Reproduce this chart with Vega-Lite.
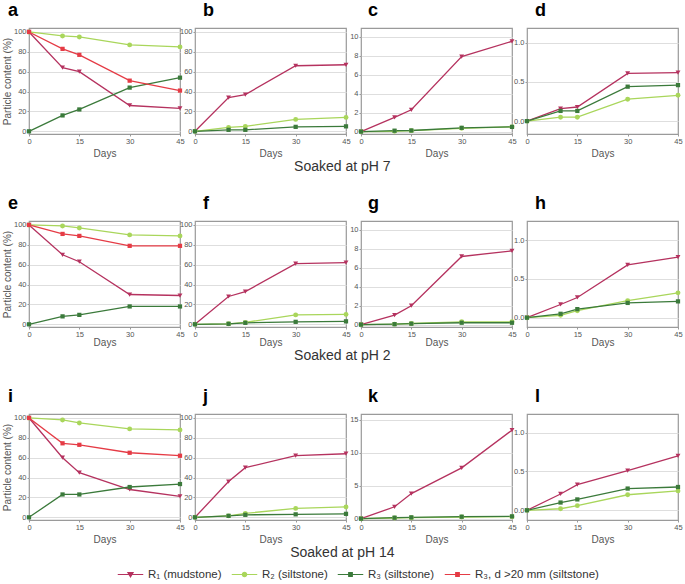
{
"$schema":"https://vega.github.io/schema/vega-lite/v6.json",
"padding":{"left":1,"top":1,"right":2,"bottom":2},
"config":{
 "font":"Liberation Sans",
 "view":{"stroke":"#9a9a9a","strokeWidth":1.2},
 "axis":{"labelFontSize":7.5,"labelColor":"#555","titleFontSize":10,"titleFontWeight":"normal","titleColor":"#555","tickColor":"#999","tickSize":2,"labelPadding":1,"domain":false,"gridColor":"#dedede","labelFlush":false,"labelOverlap":false},
 "axisX":{"grid":false},
 "axisY":{"grid":true,"titlePadding":1},
 "title":{"fontSize":18,"fontWeight":"bold","anchor":"start","frame":"group","baseline":"alphabetic","offset":8,"color":"#000"},
 "point":{"filled":true,"opacity":1,"size":24},
 "line":{"strokeWidth":1.3}
},
"data":{"values":[
{"p":"a","s":"R1","d":0,"v":100},{"p":"a","s":"R1","d":10,"v":64},{"p":"a","s":"R1","d":15,"v":60},{"p":"a","s":"R1","d":30,"v":26},{"p":"a","s":"R1","d":45,"v":23},
{"p":"a","s":"R2","d":0,"v":100},{"p":"a","s":"R2","d":10,"v":96},{"p":"a","s":"R2","d":15,"v":95},{"p":"a","s":"R2","d":30,"v":87},{"p":"a","s":"R2","d":45,"v":85},
{"p":"a","s":"R3","d":0,"v":0},{"p":"a","s":"R3","d":10,"v":16},{"p":"a","s":"R3","d":15,"v":22},{"p":"a","s":"R3","d":30,"v":44},{"p":"a","s":"R3","d":45,"v":54},
{"p":"a","s":"R3d","d":0,"v":100},{"p":"a","s":"R3d","d":10,"v":83},{"p":"a","s":"R3d","d":15,"v":77},{"p":"a","s":"R3d","d":30,"v":51},{"p":"a","s":"R3d","d":45,"v":41},
{"p":"b","s":"R1","d":0,"v":0},{"p":"b","s":"R1","d":10,"v":34},{"p":"b","s":"R1","d":15,"v":37},{"p":"b","s":"R1","d":30,"v":66},{"p":"b","s":"R1","d":45,"v":67},
{"p":"b","s":"R2","d":0,"v":0},{"p":"b","s":"R2","d":10,"v":4},{"p":"b","s":"R2","d":15,"v":5},{"p":"b","s":"R2","d":30,"v":12},{"p":"b","s":"R2","d":45,"v":14},
{"p":"b","s":"R3","d":0,"v":0},{"p":"b","s":"R3","d":10,"v":1.5},{"p":"b","s":"R3","d":15,"v":1.5},{"p":"b","s":"R3","d":30,"v":4.5},{"p":"b","s":"R3","d":45,"v":5},
{"p":"c","s":"R1","d":0,"v":0},{"p":"c","s":"R1","d":10,"v":1.5},{"p":"c","s":"R1","d":15,"v":2.3},{"p":"c","s":"R1","d":30,"v":7.9},{"p":"c","s":"R1","d":45,"v":9.5},
{"p":"c","s":"R2","d":0,"v":0},{"p":"c","s":"R2","d":10,"v":0.03},{"p":"c","s":"R2","d":15,"v":0.1},{"p":"c","s":"R2","d":30,"v":0.35},{"p":"c","s":"R2","d":45,"v":0.5},
{"p":"c","s":"R3","d":0,"v":0},{"p":"c","s":"R3","d":10,"v":0.1},{"p":"c","s":"R3","d":15,"v":0.12},{"p":"c","s":"R3","d":30,"v":0.4},{"p":"c","s":"R3","d":45,"v":0.5},
{"p":"d","s":"R1","d":0,"v":0},{"p":"d","s":"R1","d":10,"v":0.16},{"p":"d","s":"R1","d":15,"v":0.18},{"p":"d","s":"R1","d":30,"v":0.61},{"p":"d","s":"R1","d":45,"v":0.62},
{"p":"d","s":"R2","d":0,"v":0},{"p":"d","s":"R2","d":10,"v":0.05},{"p":"d","s":"R2","d":15,"v":0.05},{"p":"d","s":"R2","d":30,"v":0.28},{"p":"d","s":"R2","d":45,"v":0.33},
{"p":"d","s":"R3","d":0,"v":0},{"p":"d","s":"R3","d":10,"v":0.13},{"p":"d","s":"R3","d":15,"v":0.13},{"p":"d","s":"R3","d":30,"v":0.44},{"p":"d","s":"R3","d":45,"v":0.46},
{"p":"e","s":"R1","d":0,"v":100},{"p":"e","s":"R1","d":10,"v":70},{"p":"e","s":"R1","d":15,"v":63},{"p":"e","s":"R1","d":30,"v":30},{"p":"e","s":"R1","d":45,"v":29},
{"p":"e","s":"R2","d":0,"v":100},{"p":"e","s":"R2","d":10,"v":99},{"p":"e","s":"R2","d":15,"v":97},{"p":"e","s":"R2","d":30,"v":90},{"p":"e","s":"R2","d":45,"v":89},
{"p":"e","s":"R3","d":0,"v":0},{"p":"e","s":"R3","d":10,"v":8},{"p":"e","s":"R3","d":15,"v":9.5},{"p":"e","s":"R3","d":30,"v":18},{"p":"e","s":"R3","d":45,"v":18},
{"p":"e","s":"R3d","d":0,"v":100},{"p":"e","s":"R3d","d":10,"v":91},{"p":"e","s":"R3d","d":15,"v":89},{"p":"e","s":"R3d","d":30,"v":79},{"p":"e","s":"R3d","d":45,"v":79},
{"p":"f","s":"R1","d":0,"v":0},{"p":"f","s":"R1","d":10,"v":28},{"p":"f","s":"R1","d":15,"v":33},{"p":"f","s":"R1","d":30,"v":61},{"p":"f","s":"R1","d":45,"v":62},
{"p":"f","s":"R2","d":0,"v":0},{"p":"f","s":"R2","d":10,"v":0.5},{"p":"f","s":"R2","d":15,"v":2},{"p":"f","s":"R2","d":30,"v":9.5},{"p":"f","s":"R2","d":45,"v":10},
{"p":"f","s":"R3","d":0,"v":0},{"p":"f","s":"R3","d":10,"v":0.5},{"p":"f","s":"R3","d":15,"v":1.5},{"p":"f","s":"R3","d":30,"v":2.5},{"p":"f","s":"R3","d":45,"v":3},
{"p":"g","s":"R1","d":0,"v":0},{"p":"g","s":"R1","d":10,"v":1},{"p":"g","s":"R1","d":15,"v":2},{"p":"g","s":"R1","d":30,"v":7.2},{"p":"g","s":"R1","d":45,"v":7.8},
{"p":"g","s":"R2","d":0,"v":0},{"p":"g","s":"R2","d":10,"v":0.05},{"p":"g","s":"R2","d":15,"v":0.12},{"p":"g","s":"R2","d":30,"v":0.3},{"p":"g","s":"R2","d":45,"v":0.3},
{"p":"g","s":"R3","d":0,"v":0},{"p":"g","s":"R3","d":10,"v":0.05},{"p":"g","s":"R3","d":15,"v":0.1},{"p":"g","s":"R3","d":30,"v":0.2},{"p":"g","s":"R3","d":45,"v":0.2},
{"p":"h","s":"R1","d":0,"v":0},{"p":"h","s":"R1","d":10,"v":0.17},{"p":"h","s":"R1","d":15,"v":0.26},{"p":"h","s":"R1","d":30,"v":0.68},{"p":"h","s":"R1","d":45,"v":0.78},
{"p":"h","s":"R2","d":0,"v":0},{"p":"h","s":"R2","d":10,"v":0.03},{"p":"h","s":"R2","d":15,"v":0.09},{"p":"h","s":"R2","d":30,"v":0.22},{"p":"h","s":"R2","d":45,"v":0.32},
{"p":"h","s":"R3","d":0,"v":0},{"p":"h","s":"R3","d":10,"v":0.05},{"p":"h","s":"R3","d":15,"v":0.11},{"p":"h","s":"R3","d":30,"v":0.19},{"p":"h","s":"R3","d":45,"v":0.21},
{"p":"i","s":"R1","d":0,"v":100},{"p":"i","s":"R1","d":10,"v":60},{"p":"i","s":"R1","d":15,"v":45},{"p":"i","s":"R1","d":30,"v":28},{"p":"i","s":"R1","d":45,"v":21},
{"p":"i","s":"R2","d":0,"v":100},{"p":"i","s":"R2","d":10,"v":98},{"p":"i","s":"R2","d":15,"v":95},{"p":"i","s":"R2","d":30,"v":89},{"p":"i","s":"R2","d":45,"v":88},
{"p":"i","s":"R3","d":0,"v":0},{"p":"i","s":"R3","d":10,"v":23},{"p":"i","s":"R3","d":15,"v":23},{"p":"i","s":"R3","d":30,"v":30.5},{"p":"i","s":"R3","d":45,"v":33.5},
{"p":"i","s":"R3d","d":0,"v":100},{"p":"i","s":"R3d","d":10,"v":74.5},{"p":"i","s":"R3d","d":15,"v":73},{"p":"i","s":"R3d","d":30,"v":65},{"p":"i","s":"R3d","d":45,"v":62},
{"p":"j","s":"R1","d":0,"v":0},{"p":"j","s":"R1","d":10,"v":36},{"p":"j","s":"R1","d":15,"v":50},{"p":"j","s":"R1","d":30,"v":62},{"p":"j","s":"R1","d":45,"v":64},
{"p":"j","s":"R2","d":0,"v":0},{"p":"j","s":"R2","d":10,"v":1.5},{"p":"j","s":"R2","d":15,"v":4},{"p":"j","s":"R2","d":30,"v":9},{"p":"j","s":"R2","d":45,"v":10.5},
{"p":"j","s":"R3","d":0,"v":0},{"p":"j","s":"R3","d":10,"v":1.5},{"p":"j","s":"R3","d":15,"v":2.5},{"p":"j","s":"R3","d":30,"v":3},{"p":"j","s":"R3","d":45,"v":3.5},
{"p":"k","s":"R1","d":0,"v":0},{"p":"k","s":"R1","d":10,"v":1.8},{"p":"k","s":"R1","d":15,"v":3.8},{"p":"k","s":"R1","d":30,"v":7.7},{"p":"k","s":"R1","d":45,"v":13.4},
{"p":"k","s":"R2","d":0,"v":0},{"p":"k","s":"R2","d":10,"v":0.1},{"p":"k","s":"R2","d":15,"v":0.15},{"p":"k","s":"R2","d":30,"v":0.25},{"p":"k","s":"R2","d":45,"v":0.3},
{"p":"k","s":"R3","d":0,"v":0},{"p":"k","s":"R3","d":10,"v":0.15},{"p":"k","s":"R3","d":15,"v":0.2},{"p":"k","s":"R3","d":30,"v":0.3},{"p":"k","s":"R3","d":45,"v":0.35},
{"p":"l","s":"R1","d":0,"v":0},{"p":"l","s":"R1","d":10,"v":0.21},{"p":"l","s":"R1","d":15,"v":0.33},{"p":"l","s":"R1","d":30,"v":0.51},{"p":"l","s":"R1","d":45,"v":0.7},
{"p":"l","s":"R2","d":0,"v":0},{"p":"l","s":"R2","d":10,"v":0.02},{"p":"l","s":"R2","d":15,"v":0.06},{"p":"l","s":"R2","d":30,"v":0.2},{"p":"l","s":"R2","d":45,"v":0.25},
{"p":"l","s":"R3","d":0,"v":0},{"p":"l","s":"R3","d":10,"v":0.1},{"p":"l","s":"R3","d":15,"v":0.14},{"p":"l","s":"R3","d":30,"v":0.28},{"p":"l","s":"R3","d":45,"v":0.3}
]},
"resolve":{"scale":{"color":"shared"}},
"bounds":"flush",
"spacing":193,
"vconcat":[
{"title":{"text":"Soaked at pH 7","orient":"bottom","anchor":"middle","frame":"bounds","fontSize":14,"fontWeight":"normal","color":"#333","offset":1,"baseline":"top"},
 "bounds":"flush","spacing":15,
 "hconcat":[
  {"width":151,"height":106,"title":{"text":"a","dx":-21},"transform":[{"filter":"datum.p==='a'"}],
   "encoding":{"x":{"field":"d","type":"quantitative","scale":{"domain":[0,45],"nice":false},"axis":{"values":[0,15,30,45],"title":"Days","titlePadding":4}},
    "y":{"field":"v","type":"quantitative","scale":{"domain":[-2.7,104],"nice":false,"zero":false},"axis":{"values":[0,20,40,60,80,100],"title":"Particle content (%)"}},
    "color":{"field":"s","type":"nominal","scale":{"domain":["R1","R2","R3","R3d"],"range":["#b5325f","#a9d65b","#3b7a3b","#e53b45"]},
     "legend":{"orient":"none","legendX":88,"legendY":533,"direction":"horizontal","title":null,"padding":0,"symbolSize":650,"labelFontSize":11.5,"labelColor":"#333","columnPadding":7,"labelOffset":4,
      "labelExpr":"datum.value=='R1' ? 'R₁ (mudstone)' : datum.value=='R2' ? 'R₂ (siltstone)' : datum.value=='R3' ? 'R₃ (siltstone)' : 'R₃, d >20 mm (siltstone)'",
      "encode":{"symbols":{"update":{
        "shape":{"signal":"datum.value=='R1' ? 'M-1,0L1,0M-0.2,-0.15L0.2,-0.15L0,0.18Z' : datum.value=='R2' ? 'M-1,0L1,0M-0.17,0A0.17,0.17,0,1,0,0.17,0A0.17,0.17,0,1,0,-0.17,0Z' : 'M-1,0L1,0M-0.14,-0.14L0.14,-0.14L0.14,0.14L-0.14,0.14Z'"},
        "fill":{"signal":"scale('color', datum.value)"},"stroke":{"signal":"scale('color', datum.value)"},"strokeWidth":{"value":1.2},"opacity":{"value":1},"fillOpacity":{"value":1}}}}}}},
   "layer":[{"mark":"line"},
    {"transform":[{"filter":"datum.s==='R1'"}],"mark":{"type":"point","shape":"triangle-down"}},
    {"transform":[{"filter":"datum.s==='R2'"}],"mark":{"type":"point","shape":"circle"}},
    {"transform":[{"filter":"datum.s==='R3' || datum.s==='R3d'"}],"mark":{"type":"point","shape":"square","size":18}}]},
  {"width":151,"height":106,"title":{"text":"b","dx":8},"transform":[{"filter":"datum.p==='b'"}],
   "encoding":{"x":{"field":"d","type":"quantitative","scale":{"domain":[0,45],"nice":false},"axis":{"values":[0,15,30,45],"title":"Days","titlePadding":4}},
    "y":{"field":"v","type":"quantitative","scale":{"domain":[-2.7,104],"nice":false,"zero":false},"axis":{"values":[0,20,40,60,80,100],"title":null}},
    "color":{"field":"s","type":"nominal","scale":{"domain":["R1","R2","R3","R3d"],"range":["#b5325f","#a9d65b","#3b7a3b","#e53b45"]},"legend":null}},
   "layer":[{"mark":"line"},
    {"transform":[{"filter":"datum.s==='R1'"}],"mark":{"type":"point","shape":"triangle-down"}},
    {"transform":[{"filter":"datum.s==='R2'"}],"mark":{"type":"point","shape":"circle"}},
    {"transform":[{"filter":"datum.s==='R3' || datum.s==='R3d'"}],"mark":{"type":"point","shape":"square","size":18}}]},
  {"width":151,"height":106,"title":{"text":"c","dx":7},"transform":[{"filter":"datum.p==='c'"}],
   "encoding":{"x":{"field":"d","type":"quantitative","scale":{"domain":[0,45],"nice":false},"axis":{"values":[0,15,30,45],"title":"Days","titlePadding":4}},
    "y":{"field":"v","type":"quantitative","scale":{"domain":[-0.25,10.9],"nice":false,"zero":false},"axis":{"values":[0,2,4,6,8,10],"title":null}},
    "color":{"field":"s","type":"nominal","scale":{"domain":["R1","R2","R3","R3d"],"range":["#b5325f","#a9d65b","#3b7a3b","#e53b45"]},"legend":null}},
   "layer":[{"mark":"line"},
    {"transform":[{"filter":"datum.s==='R1'"}],"mark":{"type":"point","shape":"triangle-down"}},
    {"transform":[{"filter":"datum.s==='R2'"}],"mark":{"type":"point","shape":"circle"}},
    {"transform":[{"filter":"datum.s==='R3' || datum.s==='R3d'"}],"mark":{"type":"point","shape":"square","size":18}}]},
  {"width":151,"height":106,"title":{"text":"d","dx":8},"transform":[{"filter":"datum.p==='d'"}],
   "encoding":{"x":{"field":"d","type":"quantitative","scale":{"domain":[0,45],"nice":false},"axis":{"values":[0,15,30,45],"title":"Days","titlePadding":4}},
    "y":{"field":"v","type":"quantitative","scale":{"domain":[-0.165,1.19],"nice":false,"zero":false},"axis":{"values":[0,0.5,1],"format":".1f","title":null}},
    "color":{"field":"s","type":"nominal","scale":{"domain":["R1","R2","R3","R3d"],"range":["#b5325f","#a9d65b","#3b7a3b","#e53b45"]},"legend":null}},
   "layer":[{"mark":"line"},
    {"transform":[{"filter":"datum.s==='R1'"}],"mark":{"type":"point","shape":"triangle-down"}},
    {"transform":[{"filter":"datum.s==='R2'"}],"mark":{"type":"point","shape":"circle"}},
    {"transform":[{"filter":"datum.s==='R3' || datum.s==='R3d'"}],"mark":{"type":"point","shape":"square","size":18}}]}
 ]},
{"title":{"text":"Soaked at pH 2","orient":"bottom","anchor":"middle","frame":"bounds","fontSize":14,"fontWeight":"normal","color":"#333","offset":1,"baseline":"top"},
 "bounds":"flush","spacing":15,
 "hconcat":[
  {"width":151,"height":106,"title":{"text":"e","dx":-21},"transform":[{"filter":"datum.p==='e'"}],
   "encoding":{"x":{"field":"d","type":"quantitative","scale":{"domain":[0,45],"nice":false},"axis":{"values":[0,15,30,45],"title":"Days","titlePadding":0}},
    "y":{"field":"v","type":"quantitative","scale":{"domain":[-2.7,104],"nice":false,"zero":false},"axis":{"values":[0,20,40,60,80,100],"title":"Particle content (%)"}},
    "color":{"field":"s","type":"nominal","scale":{"domain":["R1","R2","R3","R3d"],"range":["#b5325f","#a9d65b","#3b7a3b","#e53b45"]},"legend":null}},
   "layer":[{"mark":"line"},
    {"transform":[{"filter":"datum.s==='R1'"}],"mark":{"type":"point","shape":"triangle-down"}},
    {"transform":[{"filter":"datum.s==='R2'"}],"mark":{"type":"point","shape":"circle"}},
    {"transform":[{"filter":"datum.s==='R3' || datum.s==='R3d'"}],"mark":{"type":"point","shape":"square","size":18}}]},
  {"width":151,"height":106,"title":{"text":"f","dx":8},"transform":[{"filter":"datum.p==='f'"}],
   "encoding":{"x":{"field":"d","type":"quantitative","scale":{"domain":[0,45],"nice":false},"axis":{"values":[0,15,30,45],"title":"Days","titlePadding":0}},
    "y":{"field":"v","type":"quantitative","scale":{"domain":[-2.7,104],"nice":false,"zero":false},"axis":{"values":[0,20,40,60,80,100],"title":null}},
    "color":{"field":"s","type":"nominal","scale":{"domain":["R1","R2","R3","R3d"],"range":["#b5325f","#a9d65b","#3b7a3b","#e53b45"]},"legend":null}},
   "layer":[{"mark":"line"},
    {"transform":[{"filter":"datum.s==='R1'"}],"mark":{"type":"point","shape":"triangle-down"}},
    {"transform":[{"filter":"datum.s==='R2'"}],"mark":{"type":"point","shape":"circle"}},
    {"transform":[{"filter":"datum.s==='R3' || datum.s==='R3d'"}],"mark":{"type":"point","shape":"square","size":18}}]},
  {"width":151,"height":106,"title":{"text":"g","dx":7},"transform":[{"filter":"datum.p==='g'"}],
   "encoding":{"x":{"field":"d","type":"quantitative","scale":{"domain":[0,45],"nice":false},"axis":{"values":[0,15,30,45],"title":"Days","titlePadding":0}},
    "y":{"field":"v","type":"quantitative","scale":{"domain":[-0.25,10.95],"nice":false,"zero":false},"axis":{"values":[0,2,4,6,8,10],"title":null}},
    "color":{"field":"s","type":"nominal","scale":{"domain":["R1","R2","R3","R3d"],"range":["#b5325f","#a9d65b","#3b7a3b","#e53b45"]},"legend":null}},
   "layer":[{"mark":"line"},
    {"transform":[{"filter":"datum.s==='R1'"}],"mark":{"type":"point","shape":"triangle-down"}},
    {"transform":[{"filter":"datum.s==='R2'"}],"mark":{"type":"point","shape":"circle"}},
    {"transform":[{"filter":"datum.s==='R3' || datum.s==='R3d'"}],"mark":{"type":"point","shape":"square","size":18}}]},
  {"width":151,"height":106,"title":{"text":"h","dx":8},"transform":[{"filter":"datum.p==='h'"}],
   "encoding":{"x":{"field":"d","type":"quantitative","scale":{"domain":[0,45],"nice":false},"axis":{"values":[0,15,30,45],"title":"Days","titlePadding":0}},
    "y":{"field":"v","type":"quantitative","scale":{"domain":[-0.12,1.245],"nice":false,"zero":false},"axis":{"values":[0,0.5,1],"format":".1f","title":null}},
    "color":{"field":"s","type":"nominal","scale":{"domain":["R1","R2","R3","R3d"],"range":["#b5325f","#a9d65b","#3b7a3b","#e53b45"]},"legend":null}},
   "layer":[{"mark":"line"},
    {"transform":[{"filter":"datum.s==='R1'"}],"mark":{"type":"point","shape":"triangle-down"}},
    {"transform":[{"filter":"datum.s==='R2'"}],"mark":{"type":"point","shape":"circle"}},
    {"transform":[{"filter":"datum.s==='R3' || datum.s==='R3d'"}],"mark":{"type":"point","shape":"square","size":18}}]}
 ]},
{"title":{"text":"Soaked at pH 14","orient":"bottom","anchor":"middle","frame":"bounds","fontSize":14,"fontWeight":"normal","color":"#333","offset":1,"baseline":"top"},
 "bounds":"flush","spacing":15,
 "hconcat":[
  {"width":151,"height":106,"title":{"text":"i","dx":-21},"transform":[{"filter":"datum.p==='i'"}],
   "encoding":{"x":{"field":"d","type":"quantitative","scale":{"domain":[0,45],"nice":false},"axis":{"values":[0,15,30,45],"title":"Days","titlePadding":4}},
    "y":{"field":"v","type":"quantitative","scale":{"domain":[-2.7,104],"nice":false,"zero":false},"axis":{"values":[0,20,40,60,80,100],"title":"Particle content (%)"}},
    "color":{"field":"s","type":"nominal","scale":{"domain":["R1","R2","R3","R3d"],"range":["#b5325f","#a9d65b","#3b7a3b","#e53b45"]},"legend":null}},
   "layer":[{"mark":"line"},
    {"transform":[{"filter":"datum.s==='R1'"}],"mark":{"type":"point","shape":"triangle-down"}},
    {"transform":[{"filter":"datum.s==='R2'"}],"mark":{"type":"point","shape":"circle"}},
    {"transform":[{"filter":"datum.s==='R3' || datum.s==='R3d'"}],"mark":{"type":"point","shape":"square","size":18}}]},
  {"width":151,"height":106,"title":{"text":"j","dx":8},"transform":[{"filter":"datum.p==='j'"}],
   "encoding":{"x":{"field":"d","type":"quantitative","scale":{"domain":[0,45],"nice":false},"axis":{"values":[0,15,30,45],"title":"Days","titlePadding":4}},
    "y":{"field":"v","type":"quantitative","scale":{"domain":[-2.7,104],"nice":false,"zero":false},"axis":{"values":[0,20,40,60,80,100],"title":null}},
    "color":{"field":"s","type":"nominal","scale":{"domain":["R1","R2","R3","R3d"],"range":["#b5325f","#a9d65b","#3b7a3b","#e53b45"]},"legend":null}},
   "layer":[{"mark":"line"},
    {"transform":[{"filter":"datum.s==='R1'"}],"mark":{"type":"point","shape":"triangle-down"}},
    {"transform":[{"filter":"datum.s==='R2'"}],"mark":{"type":"point","shape":"circle"}},
    {"transform":[{"filter":"datum.s==='R3' || datum.s==='R3d'"}],"mark":{"type":"point","shape":"square","size":18}}]},
  {"width":151,"height":106,"title":{"text":"k","dx":7},"transform":[{"filter":"datum.p==='k'"}],
   "encoding":{"x":{"field":"d","type":"quantitative","scale":{"domain":[0,45],"nice":false},"axis":{"values":[0,15,30,45],"title":"Days","titlePadding":4}},
    "y":{"field":"v","type":"quantitative","scale":{"domain":[-0.2,15.85],"nice":false,"zero":false},"axis":{"values":[0,5,10,15],"title":null}},
    "color":{"field":"s","type":"nominal","scale":{"domain":["R1","R2","R3","R3d"],"range":["#b5325f","#a9d65b","#3b7a3b","#e53b45"]},"legend":null}},
   "layer":[{"mark":"line"},
    {"transform":[{"filter":"datum.s==='R1'"}],"mark":{"type":"point","shape":"triangle-down"}},
    {"transform":[{"filter":"datum.s==='R2'"}],"mark":{"type":"point","shape":"circle"}},
    {"transform":[{"filter":"datum.s==='R3' || datum.s==='R3d'"}],"mark":{"type":"point","shape":"square","size":18}}]},
  {"width":151,"height":106,"title":{"text":"l","dx":8},"transform":[{"filter":"datum.p==='l'"}],
   "encoding":{"x":{"field":"d","type":"quantitative","scale":{"domain":[0,45],"nice":false},"axis":{"values":[0,15,30,45],"title":"Days","titlePadding":4}},
    "y":{"field":"v","type":"quantitative","scale":{"domain":[-0.125,1.24],"nice":false,"zero":false},"axis":{"values":[0,0.5,1],"format":".1f","title":null}},
    "color":{"field":"s","type":"nominal","scale":{"domain":["R1","R2","R3","R3d"],"range":["#b5325f","#a9d65b","#3b7a3b","#e53b45"]},"legend":null}},
   "layer":[{"mark":"line"},
    {"transform":[{"filter":"datum.s==='R1'"}],"mark":{"type":"point","shape":"triangle-down"}},
    {"transform":[{"filter":"datum.s==='R2'"}],"mark":{"type":"point","shape":"circle"}},
    {"transform":[{"filter":"datum.s==='R3' || datum.s==='R3d'"}],"mark":{"type":"point","shape":"square","size":18}}]}
 ]}
]
}
